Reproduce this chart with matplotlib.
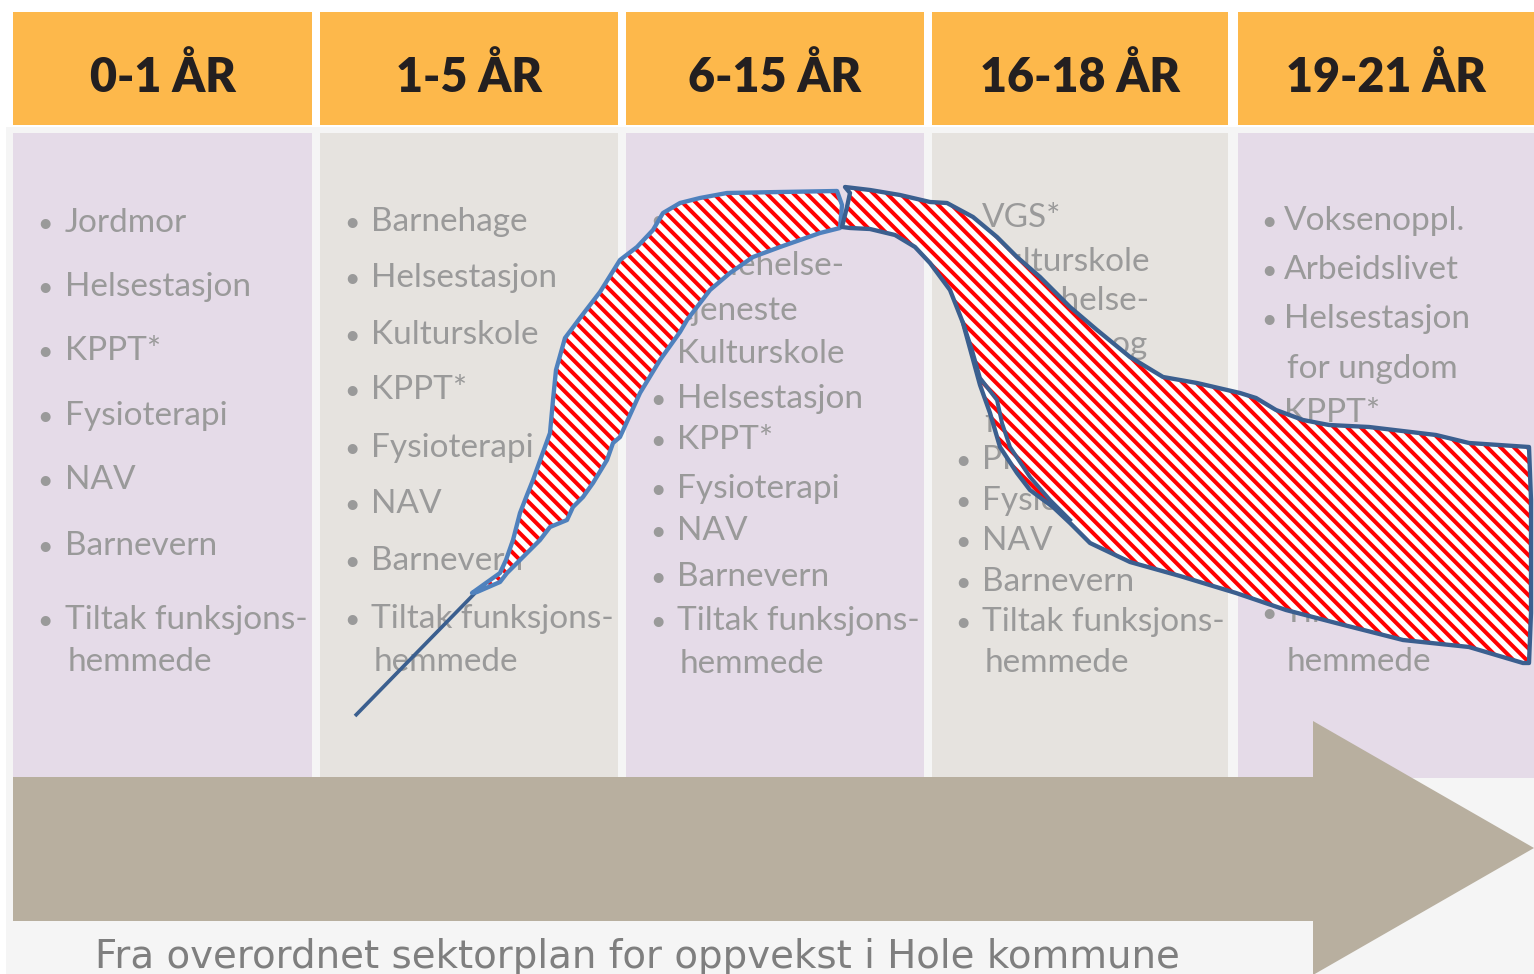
import matplotlib
matplotlib.use("Agg")
import matplotlib.pyplot as plt
from matplotlib.patches import Rectangle, Polygon

# ---------------- data ----------------
headers = ["0-1 ÅR", "1-5 ÅR", "6-15 ÅR", "16-18 ÅR", "19-21 ÅR"]

# each column: list of items; each item is a list of lines
col_items = [
    [["Jordmor"], ["Helsestasjon"], ["KPPT*"], ["Fysioterapi"], ["NAV"],
     ["Barnevern"], ["Tiltak funksjons-", "hemmede"]],
    [["Barnehage"], ["Helsestasjon"], ["Kulturskole"], ["KPPT*"], ["Fysioterapi"],
     ["NAV"], ["Barnevern"], ["Tiltak funksjons-", "hemmede"]],
    [["Skole"], ["Skolehelse-", "tjeneste"], ["Kulturskole"], ["Helsestasjon"], ["KPPT*"],
     ["Fysioterapi"], ["NAV"], ["Barnevern"], ["Tiltak funksjons-", "hemmede"]],
    [["VGS*"], ["Kulturskole"], ["Skolehelse-", "tjeneste og", "helsestasjon", "for ungdom"],
     ["PPT*"], ["Fysioterapi"], ["NAV"], ["Barnevern"], ["Tiltak funksjons-", "hemmede"]],
    [["Voksenoppl."], ["Arbeidslivet"], ["Helsestasjon", "for ungdom"], ["KPPT*"],
     ["Fysioterapi"], ["NAV"], ["Barnevern"], ["Tiltak funksjons-", "hemmede"]],
]

# baselines (pixel rows) of each text line per column
col_baselines = [
    [232, 296, 360, 425, 489, 555, 629, 671],
    [231, 287, 344, 399, 457, 513, 570, 628, 671],
    [229, 275, 320, 363, 408, 449, 498, 540, 586, 630, 673],
    [227, 271, 310, 354, 392, 432, 469, 510, 550, 591, 631, 672],
    [230, 279, 328, 378, 422, 473, 522, 572, 622, 671],
]

# outline of the hatched band (two pieces)
band1_x = [472, 500, 506, 513, 520, 527, 533, 542, 550, 553, 556, 565, 580, 600, 620, 637,
           653, 663, 680, 700, 727, 780, 837, 842, 840,
           820, 780, 753, 730, 710, 687, 680, 660, 640, 620, 613, 607, 593, 583, 573,
           567, 550, 540, 523, 507, 500, 477]
band1_y = [593, 573, 560, 540, 513, 495, 480, 455, 433, 400, 370, 338, 318, 292, 260, 247,
           230, 213, 203, 198, 193, 192, 191, 205, 228,
           233, 247, 257, 273, 290, 320, 332, 360, 393, 437, 443, 460, 483, 497, 507,
           520, 527, 540, 557, 573, 582, 592]

band2_x = [845, 870, 900, 930, 947, 973, 997, 1017, 1040, 1070, 1097, 1130, 1163, 1197,
           1240, 1256, 1276, 1303, 1329, 1369, 1436, 1469, 1529,
           1531, 1531, 1529,
           1523, 1469, 1403, 1336, 1286, 1236, 1180, 1130, 1090, 1070, 1053, 1030, 1017,
           1000, 990, 980, 963, 950, 930, 915, 895, 870, 850, 842, 847, 850]
band2_y = [187, 190, 195, 202, 203, 217, 237, 257, 277, 307, 330, 357, 377, 383,
           393, 398, 410, 420, 425, 427, 435, 443, 447,
           500, 613, 663,
           663, 647, 640, 623, 610, 593, 576, 562, 543, 523, 507, 490, 473,
           447, 413, 385, 323, 290, 263, 247, 235, 229, 228, 227, 207, 193]

# second (doubled) stroke along the lower-left edge of the right piece
extra_x = [963, 972, 980, 997, 1002, 1010, 1030, 1050, 1070]
extra_y = [323, 350, 378, 400, 423, 447, 477, 500, 520]

# thin lead-in line
lead_x = [355, 478]
lead_y = [716, 590]

caption = "Fra overordnet sektorplan for oppvekst i Hole kommune"

# ---------------- style / layout ----------------
W, H, DPI = 1534, 974, 120
plt.rcParams["hatch.linewidth"] = 2.4

col_x0 = [13, 320, 626, 932, 1238]
col_w = [299, 298, 298, 296, 296]
bullet_x = [45, 352, 658, 963, 1269]
text_x = [65, 371, 677, 982, 1284]
body_colors = ["#E5DBE8", "#E6E3DF", "#E5DBE8", "#E6E3DF", "#E5DBE8"]
ORANGE = "#FDB84B"
GRAY_TXT = "#9A9A9A"
FAM = ["Lato", "DejaVu Sans"]

fig = plt.figure(figsize=(W / DPI, H / DPI), dpi=DPI)
fig.patch.set_facecolor("white")
ax = fig.add_axes([0, 0, 1, 1])
ax.set_xlim(0, W)
ax.set_ylim(H, 0)
ax.axis("off")

# backdrop
ax.add_patch(Rectangle((6, 127), W - 6, H - 127, facecolor="#F5F5F5", edgecolor="none", zorder=0))

for i in range(5):
    ax.add_patch(Rectangle((col_x0[i], 12), col_w[i], 113, facecolor=ORANGE,
                           edgecolor="none", zorder=1))
    ax.add_patch(Rectangle((col_x0[i], 133), col_w[i], 645, facecolor=body_colors[i],
                           edgecolor="none", zorder=1))
    ax.text(col_x0[i] + col_w[i] / 2, 92, headers[i], ha="center", va="baseline",
            fontsize=28, fontweight="heavy", family=FAM,
            color="#231F20", zorder=3)
    k = 0
    for item in col_items[i]:
        for j, line in enumerate(item):
            if k >= len(col_baselines[i]):
                break
            yb = col_baselines[i][k]
            if j == 0:
                ax.text(bullet_x[i], yb, "•", ha="center", va="baseline", fontsize=16,
                        family=FAM, color=GRAY_TXT, zorder=2)
                ax.text(text_x[i], yb, line, ha="left", va="baseline", fontsize=20,
                        family=FAM, color=GRAY_TXT, zorder=2)
            else:
                ax.text(text_x[i] + 3, yb, line, ha="left", va="baseline", fontsize=20,
                        family=FAM, color=GRAY_TXT, zorder=2)
            k += 1

# big arrow
arrow_x = [13, 1313, 1313, 1534, 1313, 1313, 13]
arrow_y = [777, 777, 721, 848, 975, 921, 921]
ax.add_patch(Polygon(list(zip(arrow_x, arrow_y)), closed=True, facecolor="#B8AF9F",
                     edgecolor="none", zorder=4))

cap = ax.text(95, 968, caption, ha="left", va="baseline", fontsize=27,
              family=["Liberation Sans Narrow", "DejaVu Sans"], color="#7F7F7F", zorder=5)
# fit caption to its width in the reference (about 1088 px)
fig.canvas.draw()
bb = cap.get_window_extent(renderer=fig.canvas.get_renderer())
cap.set_fontsize(27 * 1088.0 / bb.width)

# lead line
ax.plot(lead_x, lead_y, color="#3B5F8F", lw=2.2, solid_capstyle="butt", zorder=6)

# hatched band pieces
for bx, by, ec in [(band1_x, band1_y, "#4F81BD"), (band2_x, band2_y, "#3B5F8F")]:
    pts = list(zip(bx, by))
    ax.add_patch(Polygon(pts, closed=True, facecolor="white", edgecolor="red",
                         hatch="\\\\\\", linewidth=0, zorder=7))
    ax.add_patch(Polygon(pts, closed=True, fill=False, edgecolor=ec, linewidth=2.6,
                         joinstyle="round", zorder=8))
ax.plot(extra_x, extra_y, color="#3B5F8F", lw=2.4, solid_joinstyle="round", zorder=8)

fig.savefig("out.png", dpi=DPI, facecolor=fig.get_facecolor())
